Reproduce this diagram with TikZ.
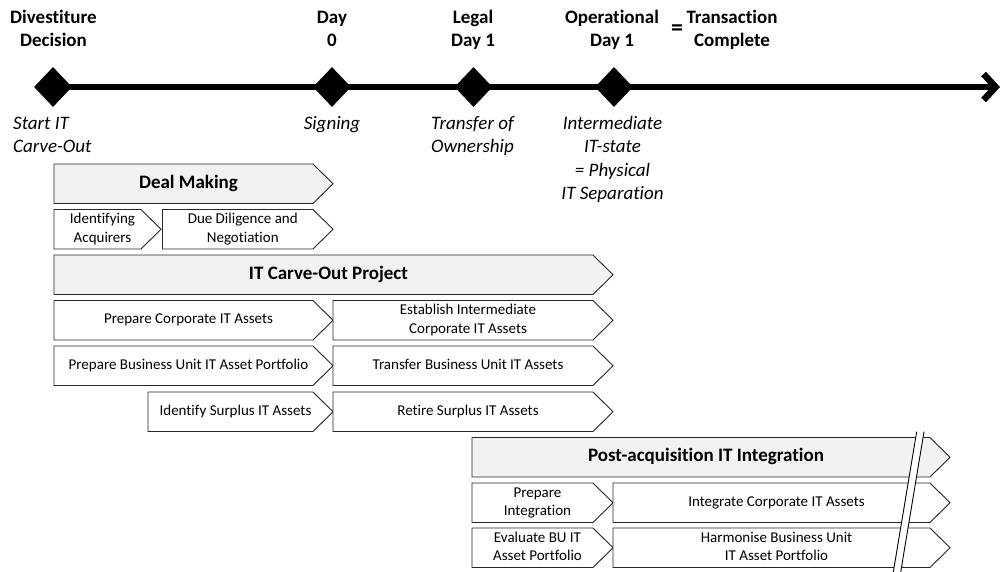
\documentclass[tikz,border=0pt]{standalone}
\usepackage{fontspec}
\setmainfont{Carlito}[Ligatures={NoCommon}]
\usetikzlibrary{arrows.meta,shapes.geometric,backgrounds}
\newcommand{\chevbox}[6]{% name, style, left, tip, top, text
  \draw[#2] (#3,#5) -- ({#4-20},#5) -- (#4,{#5+19.75}) -- ({#4-20},{#5+39.5}) -- (#3,{#5+39.5}) -- cycle;
  \node[#2text] (#1) at ({(#3+#4-10)/2},{#5+19.75}) {#6};
}
\begin{document}
\begin{tikzpicture}[x=1pt,y=-1pt,
  ms/.style={diamond, fill=black, inner sep=0pt, minimum width=38pt, minimum height=40pt},
  toplbl/.style={font=\fontsize{19}{23.2}\selectfont\bfseries, align=center, anchor=north, inner sep=0pt},
  sublbl/.style={font=\fontsize{19}{23.2}\selectfont\itshape, align=center, anchor=north, inner sep=0pt},
  phase/.style={draw=black!85, line width=0.9pt, fill=gray!10},
  task/.style={draw=black!85, line width=0.9pt, fill=white},
  phasetext/.style={font=\fontsize{19}{23.2}\selectfont\bfseries, align=center, inner sep=0pt},
  tasktext/.style={font=\fontsize{15}{18.3}\selectfont, align=center, inner sep=0pt},
  timeline/.style={line width=6.5pt, -{Straight Barb[length=12pt,width=26pt]}},
]
\useasboundingbox (0,0) rectangle (1003,571);

% milestones
\node[ms] (d0) at (53,87) {};
\node[ms] (d1) at (332,87) {};
\node[ms] (d2) at (473.5,87) {};
\node[ms] (d3) at (614,87) {};
\coordinate (tend) at (1000,87);
\begin{scope}[on background layer]
  \draw[timeline] (d0.center) -- (tend);
\end{scope}

% top labels
\node[toplbl] (l0) at (53.5,6.8) {\strut Divestiture\\\strut Decision};
\node[toplbl] (l1) at (332,6.8) {\strut Day\\\strut 0};
\node[toplbl] (l2) at (473,6.8) {\strut Legal\\\strut Day 1};
\node[toplbl] (l3) at (612,6.8) {\strut Operational\\\strut Day 1};
\node[font=\fontsize{24}{28}\selectfont\bfseries, inner sep=0pt] (eq) at (677,30) {=};
\node[toplbl] (l4) at (732,6.8) {\strut Transaction\\\strut Complete};

% lower labels
\node[sublbl, anchor=north west, align=left] (s0) at (13,113.3) {\strut Start IT\\\strut Carve-Out};
\node[sublbl] (s1) at (332,113.3) {\strut Signing};
\node[sublbl] (s2) at (472.5,113.3) {\strut Transfer of\\\strut Ownership};
\node[sublbl] (s3) at (612.5,113.3) {\strut Intermediate\\\strut IT-state\\\strut = Physical\\\strut IT Separation};

% chevrons
\chevbox{dm}{phase}{54}{333}{164}{\strut Deal Making}
\chevbox{ia}{task}{54}{161}{209.5}{\strut Identifying\\\strut Acquirers}
\chevbox{dd}{task}{162.5}{333}{209.5}{\strut Due Diligence and\\\strut Negotiation}
\chevbox{cop}{phase}{54}{613}{255}{\strut IT Carve-Out Project}
\chevbox{pc}{task}{54}{333}{300.5}{\strut Prepare Corporate IT Assets}
\chevbox{ei}{task}{333}{613}{300.5}{\strut Establish Intermediate\\\strut Corporate IT Assets}
\chevbox{pb}{task}{54}{333}{346}{\strut Prepare Business Unit IT Asset Portfolio}
\chevbox{tb}{task}{333}{613}{346}{\strut Transfer Business Unit IT Assets}
\chevbox{is}{task}{148}{333}{392}{\strut Identify Surplus IT Assets}
\chevbox{rs}{task}{333}{613}{392}{\strut Retire Surplus IT Assets}
\chevbox{pa}{phase}{472}{950}{437.5}{\strut Post-acquisition IT Integration}
\chevbox{pi}{task}{472}{613}{483}{\strut Prepare\\\strut Integration}
\chevbox{ic}{task}{613}{950}{483}{\strut Integrate Corporate IT Assets}
\chevbox{eb}{task}{472}{613}{528}{\strut Evaluate BU IT\\\strut Asset Portfolio}
\chevbox{hb}{task}{613}{950}{528}{\strut Harmonise Business Unit\\\strut IT Asset Portfolio}

% break mark
\fill[white] (916.7,431.7) -- (924,431.7) -- (900.7,572) -- (893.3,572) -- cycle;
\draw[line width=0.9pt] (916.7,431.7) -- (893.3,572);
\draw[line width=0.9pt] (924,431.7) -- (900.7,572);
\end{tikzpicture}
\end{document}
